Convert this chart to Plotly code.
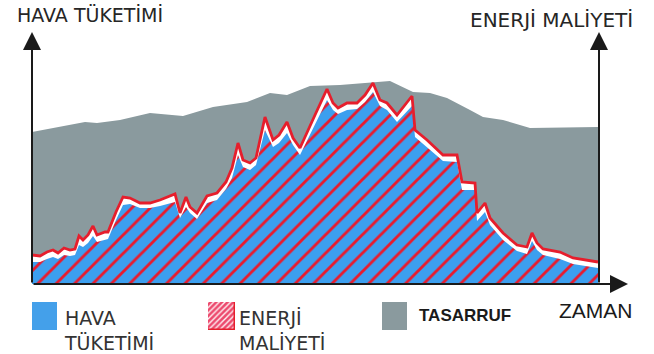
import plotly.graph_objects as go

# Time positions shared by the air-consumption and energy-cost curves
zaman = [0, 8, 15, 21, 26, 32, 38, 43, 47, 51, 56, 61, 65, 73, 76, 84, 91, 98, 108, 118,
         128, 143, 148, 154, 158, 165, 175, 185, 194, 200, 206, 211, 218, 224, 233, 241, 247, 255, 261, 268,
         283, 295, 301, 306, 315, 325, 333, 341, 348, 355, 365, 380, 383, 395, 411, 425, 430, 443, 445, 453,
         458, 471, 485, 495, 500, 505, 511, 528, 541, 566]

# Energy cost (red outline)
enerji_maliyeti = [29, 28, 32, 34, 31, 36, 34, 35, 48, 44, 49, 58, 49, 52, 52, 72, 87, 86, 81, 81,
                   84, 90, 71, 87, 77, 71, 88, 91, 102, 116, 141, 124, 121, 126, 167, 144, 149, 162, 146, 136,
                   169, 195, 181, 176, 181, 181, 189, 201, 184, 181, 169, 188, 154, 144, 129, 129, 102, 101, 71, 81,
                   66, 51, 39, 37, 51, 41, 35, 32, 26, 22]

# Air consumption (blue, hatched)
hava_tuketimi = [22, 22, 25, 27, 25, 29, 28, 29, 39, 37, 41, 48, 42, 44, 45, 64, 79, 80, 76, 76,
                 78, 82, 66, 77, 71, 65, 81, 84, 95, 106, 129, 117, 114, 119, 154, 137, 141, 151, 139, 129,
                 160, 184, 174, 170, 174, 175, 182, 192, 178, 174, 162, 178, 147, 137, 123, 122, 94, 94, 63, 72,
                 59, 44, 33, 30, 43, 34, 29, 25, 20, 16]

# Savings envelope (grey)
tasarruf_x = [0, 53, 65, 88, 118, 151, 181, 215, 238, 255, 278, 308, 358, 381, 398, 415, 438, 451, 471, 498, 566]
tasarruf = [152, 162, 161, 164, 171, 168, 177, 182, 191, 189, 198, 199, 203, 192, 191, 186, 174, 167, 164, 156, 157]

BLUE = "#3c9fef"
RED = "#e61e2c"
GREY = "#8a9a9e"
INK = "#1a1a1a"
W, H = 654, 354

fig = go.Figure()

fig.add_trace(go.Scatter(x=tasarruf_x, y=tasarruf, mode="lines", line=dict(width=0, color=GREY),
                         fill="tozeroy", fillcolor=GREY, hoverinfo="skip"))
# white band under the energy curve
fig.add_trace(go.Scatter(x=zaman, y=enerji_maliyeti, mode="lines", line=dict(width=0, color="white"),
                         fill="tozeroy", fillcolor="white", hoverinfo="skip"))
fig.add_trace(go.Scatter(x=zaman, y=hava_tuketimi, mode="lines", line=dict(width=0, color=BLUE),
                         fill="tozeroy", fillcolor=BLUE,
                         fillpattern=dict(shape="/", fgcolor="#ea1a2c", fgopacity=1, bgcolor=BLUE,
                                          size=13, solidity=0.22),
                         hoverinfo="skip"))
fig.add_trace(go.Scatter(x=zaman, y=enerji_maliyeti, mode="lines", line=dict(width=2.8, color=RED),
                         hoverinfo="skip"))

# hatched legend swatch
fig.add_trace(go.Bar(x=[0], y=[1], width=1, xaxis="x2", yaxis="y2",
                     marker=dict(color="#ee5577", line=dict(color=RED, width=1.5),
                                 pattern=dict(shape="/", fgcolor="#fff3f5", fgopacity=1, bgcolor="#ec4a6e",
                                              size=4, solidity=0.35)),
                     hoverinfo="skip"))

arrow = dict(xref="x", yref="y", axref="x", ayref="y", showarrow=True, text="",
             arrowhead=2, arrowsize=1.8, arrowwidth=2, arrowcolor=INK)
annotations = [
    dict(arrow, x=0, y=252, ax=0, ay=0),
    dict(arrow, x=596, y=0, ax=0, ay=0),
    dict(arrow, x=567, y=252, ax=567, ay=0),
]

def label(text, px, py, size, family="DejaVu Sans", xanchor="left", color="#262626", weight="normal"):
    return dict(text=text, x=px / W, y=1 - py / H, xref="paper", yref="paper", showarrow=False,
                xanchor=xanchor, yanchor="middle", align="left",
                font=dict(family=family, size=size, color=color, weight=weight))

annotations += [
    label("HAVA TÜKETİMİ", 15, 15, 19),
    label("ENERJİ MALİYETİ", 551, 20, 20, xanchor="center"),
    label("HAVA<br>TÜKETİMİ", 62, 330, 19, color="#333333"),
    label("ENERJİ<br>MALİYETİ", 237, 330, 19, color="#333333"),
    label("TASARRUF", 417, 315, 17, family="Liberation Sans", weight="bold", color="#1a1a1a"),
    label("ZAMAN", 596, 310, 21, family="Liberation Sans", xanchor="center", color="#1a1a1a"),
]

def swatch(x0, x1, color):
    return dict(type="rect", xref="paper", yref="paper", x0=x0 / W, x1=x1 / W,
                y0=1 - 330 / H, y1=1 - 302 / H, fillcolor=color, line=dict(width=0))

fig.update_layout(
    width=W, height=H, margin=dict(l=0, r=0, t=0, b=0),
    paper_bgcolor="white", plot_bgcolor="white", showlegend=False, bargap=0,
    xaxis=dict(domain=[32 / W, 628 / W], range=[0, 596], visible=False),
    yaxis=dict(domain=[70 / H, 322 / H], range=[0, 252], visible=False),
    xaxis2=dict(domain=[208 / W, 235 / W], range=[-0.5, 0.5], visible=False, anchor="y2"),
    yaxis2=dict(domain=[24 / H, 52 / H], range=[0, 1], visible=False, anchor="x2"),
    shapes=[swatch(32, 57, "#44a0ea"), swatch(382, 407, GREY)],
    annotations=annotations,
)

fig.write_html("out.html")
